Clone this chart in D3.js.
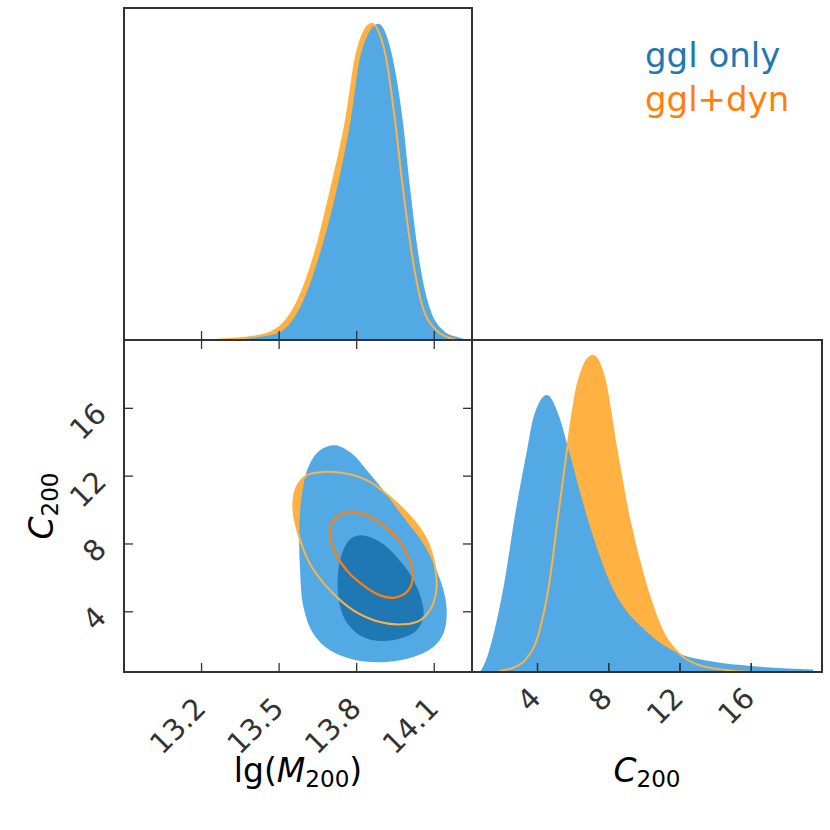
<!DOCTYPE html>
<html>
<head>
<meta charset="utf-8">
<script src="https://cdn.jsdelivr.net/npm/d3@7"></script>
<style>
body { margin: 0; background: #fff; }
text { font-family: "DejaVu Sans", sans-serif; }
</style>
</head>
<body>
<div class="container"></div>
<script>
// 1D marginal of lg(M200): [value, normalised density]
const lgmGgl = [[13.27,0],[13.43,0.01],[13.505,0.025],[13.589,0.113],[13.66,0.274],[13.727,0.485],[13.779,0.696],
  [13.819,0.907],[13.886,1.0],[13.937,0.907],[13.98,0.696],[14.008,0.485],[14.04,0.274],[14.079,0.116],
  [14.14,0.028],[14.189,0.01],[14.23,0]]
const lgmDyn = [[13.25,0],[13.40,0.01],[13.48,0.028],[13.57,0.116],[13.641,0.274],[13.705,0.485],[13.761,0.696],
  [13.802,0.907],[13.86,1.0],[13.912,0.907],[13.95,0.696],[13.98,0.485],[14.015,0.274],[14.053,0.116],
  [14.111,0.03],[14.15,0.01],[14.19,0]]

// 1D marginal of C200
const cGgl = [[0.81,0],[1.14,0.038],[1.57,0.122],[2.16,0.281],[2.75,0.491],[3.44,0.702],[3.81,0.807],[4.56,0.876],
  [5.25,0.807],[5.78,0.702],[6.81,0.491],[8.12,0.281],[10.27,0.122],[11.96,0.059],[13.83,0.033],[16.0,0.019],
  [19.5,0.008]]
const cDyn = [[1.8,0],[2.03,0.005],[2.6,0.012],[3.34,0.038],[4.1,0.122],[4.69,0.281],[5.18,0.491],[5.74,0.723],
  [6.3,0.913],[7.13,1.0],[7.84,0.913],[8.4,0.723],[9.15,0.491],[10.08,0.281],[11.11,0.122],[11.96,0.059],
  [13.08,0.022],[14.5,0.007],[16.0,0]]

// 2D contours [lgM, C200]
const gglOuter = [[13.718,13.79],[13.783,13.30],[13.841,12.32],[13.905,11.14],[13.982,9.56],[14.06,7.99],[14.111,6.42],
  [14.144,4.84],[14.15,3.66],[14.137,2.68],[14.098,1.89],[14.021,1.30],[13.918,1.01],[13.802,1.11],[13.699,1.70],
  [13.634,2.68],[13.596,4.25],[13.583,6.42],[13.58,8.78],[13.589,10.74],[13.615,12.51],[13.66,13.50]]
const gglInner = [[13.815,8.48],[13.892,8.09],[13.957,7.20],[14.015,6.02],[14.053,4.65],[14.06,3.66],[14.034,2.88],
  [13.97,2.39],[13.892,2.25],[13.815,2.58],[13.758,3.47],[13.731,4.84],[13.731,6.42],[13.75,7.60],[13.776,8.23]]
const dynOuter = [[13.609,12.02],[13.673,12.22],[13.763,12.12],[13.841,11.73],[13.931,10.74],[14.021,9.37],[14.073,8.19],
  [14.105,6.61],[14.111,5.43],[14.092,4.25],[14.047,3.47],[13.982,3.23],[13.892,3.37],[13.789,4.06],[13.699,5.24],
  [13.621,6.81],[13.576,8.58],[13.557,10.15],[13.57,11.33]]
const dynInner = [[13.699,8.78],[13.718,9.47],[13.776,9.86],[13.841,9.66],[13.905,9.07],[13.97,8.09],[14.008,7.01],
  [14.019,6.02],[14.002,5.24],[13.95,4.81],[13.892,4.94],[13.828,5.53],[13.763,6.42],[13.718,7.50],[13.702,8.19]]

const lgmTicks = [13.2, 13.5, 13.8, 14.1]
const cTicks = [4, 8, 12, 16]
const legendNames = ['ggl only', 'ggl+dyn']

const lightBlue = '#53a9e4', darkBlue = '#1f77b4'
const lightOrange = '#ffb142', darkOrange = '#ff7f0e'
const axisCol = '#333'

const svg = d3.select('.container').append('svg').attr('width', 830).attr('height', 830)

const xM = d3.scaleLinear().domain([12.902, 14.248]).range([124, 472])
const xC = d3.scaleLinear().domain([0.35, 20.0]).range([472, 822])
const yC = d3.scaleLinear().domain([0.42, 20.0]).range([672, 340])
const yTop = d3.scaleLinear().domain([0, 1.05]).range([340, 8])
const yRight = d3.scaleLinear().domain([0, 1.05]).range([672, 340])

function area1d(x, y){
  return d3.area().x(d=>x(d[0])).y0(y(0)).y1(d=>y(d[1])).curve(d3.curveMonotoneX)
}
function line1d(x, y){
  return d3.line().x(d=>x(d[0])).y(d=>y(d[1])).curve(d3.curveMonotoneX)
}
const contour = d3.line().x(d=>xM(d[0])).y(d=>yC(d[1])).curve(d3.curveCatmullRomClosed.alpha(0.5))

// top panel: lg(M200)
const topPanel = svg.append('g')
topPanel.append('path').attr('d', area1d(xM, yTop)(lgmDyn)).attr('fill', lightOrange)
topPanel.append('path').attr('d', area1d(xM, yTop)(lgmGgl)).attr('fill', lightBlue)
topPanel.append('path').attr('d', line1d(xM, yTop)(lgmDyn)).attr('fill', 'none').attr('stroke', lightOrange).attr('stroke-width', 2)

// right panel: C200
const rightPanel = svg.append('g')
rightPanel.append('path').attr('d', area1d(xC, yRight)(cDyn)).attr('fill', lightOrange)
rightPanel.append('path').attr('d', area1d(xC, yRight)(cGgl)).attr('fill', lightBlue)
rightPanel.append('path').attr('d', line1d(xC, yRight)(cDyn)).attr('fill', 'none').attr('stroke', lightOrange).attr('stroke-width', 2)

// 2D panel
const midPanel = svg.append('g')
midPanel.append('path').attr('d', contour(dynOuter)).attr('fill', lightOrange)
midPanel.append('path').attr('d', contour(gglOuter)).attr('fill', lightBlue)
midPanel.append('path').attr('d', contour(gglInner)).attr('fill', darkBlue)
midPanel.append('path').attr('d', contour(dynOuter)).attr('fill', 'none').attr('stroke', lightOrange).attr('stroke-width', 2)
midPanel.append('path').attr('d', contour(dynInner)).attr('fill', 'none').attr('stroke', darkOrange).attr('stroke-width', 2.2)

// ticks (inward)
function ticks(axis, tx, ty){
  const g = svg.append('g').attr('transform', `translate(${tx},${ty})`).call(axis)
  g.select('.domain').remove()
  g.selectAll('.tick line').attr('stroke', axisCol).attr('stroke-width', 1.3)
  return g
}
ticks(d3.axisBottom(xM).tickValues(lgmTicks).tickSize(-9).tickFormat(''), 0, 340)
ticks(d3.axisTop(xM).tickValues(lgmTicks).tickSize(-9).tickFormat(''), 0, 340)
ticks(d3.axisRight(yC).tickValues(cTicks).tickSize(-9).tickFormat(''), 472, 0)
ticks(d3.axisBottom(xC).tickValues(cTicks).tickSize(-9).tickFormat(''), 0, 672)

const bx = ticks(d3.axisBottom(xM).tickValues(lgmTicks).tickSize(-9).tickFormat(d3.format('.1f')), 0, 672)
bx.selectAll('text').attr('y', null).attr('dy', null).attr('x', null)
  .attr('text-anchor', 'end').attr('dominant-baseline', 'central')
  .attr('transform', 'translate(-1,31) rotate(-45)')
const by = ticks(d3.axisLeft(yC).tickValues(cTicks).tickSize(-9).tickFormat(d3.format('d')), 124, 0)
by.selectAll('text').attr('y', null).attr('dy', null).attr('x', null)
  .attr('text-anchor', 'end').attr('dominant-baseline', 'central')
  .attr('transform', 'translate(-23,0) rotate(-45)')
const cx = ticks(d3.axisBottom(xC).tickValues(cTicks).tickSize(-9).tickFormat(d3.format('d')), 0, 672)
cx.selectAll('text').attr('y', null).attr('dy', null).attr('x', null)
  .attr('text-anchor', 'end').attr('dominant-baseline', 'central')
  .attr('transform', 'translate(-2,21) rotate(-45)')
svg.selectAll('.tick text').attr('font-size', 29).attr('fill', axisCol).attr('font-family', '"DejaVu Sans", sans-serif')

// frames
const frames = [[124, 8, 348, 332], [124, 340, 348, 332], [472, 340, 350, 332]]
svg.append('g').selectAll('rect').data(frames).enter().append('rect')
  .attr('x', d=>d[0]).attr('y', d=>d[1]).attr('width', d=>d[2]).attr('height', d=>d[3])
  .attr('fill', 'none').attr('stroke', axisCol).attr('stroke-width', 2)

// axis labels
function cLabel(t){
  t.append('tspan').attr('font-style', 'italic').text('C')
  t.append('tspan').attr('font-size', '70%').attr('dy', 5).text('200')
}
const lx = svg.append('text').attr('x', 298).attr('y', 782).attr('text-anchor', 'middle').attr('font-size', 33)
lx.append('tspan').text('lg(')
lx.append('tspan').attr('font-style', 'italic').text('M')
lx.append('tspan').attr('font-size', '70%').attr('dy', 5).text('200')
lx.append('tspan').attr('dy', -5).text(')')
svg.append('text').attr('x', 647).attr('y', 782).attr('text-anchor', 'middle').attr('font-size', 33).call(cLabel)
svg.append('text').attr('transform', 'translate(53,506) rotate(-90)').attr('text-anchor', 'middle').attr('font-size', 33).call(cLabel)

// legend
svg.append('g').selectAll('text').data(legendNames).enter().append('text')
  .attr('x', 645).attr('y', (d,i)=>67 + i*44)
  .attr('font-size', 34)
  .attr('fill', (d,i)=>i ? darkOrange : darkBlue)
  .text(d=>d)
</script>
</body>
</html>
